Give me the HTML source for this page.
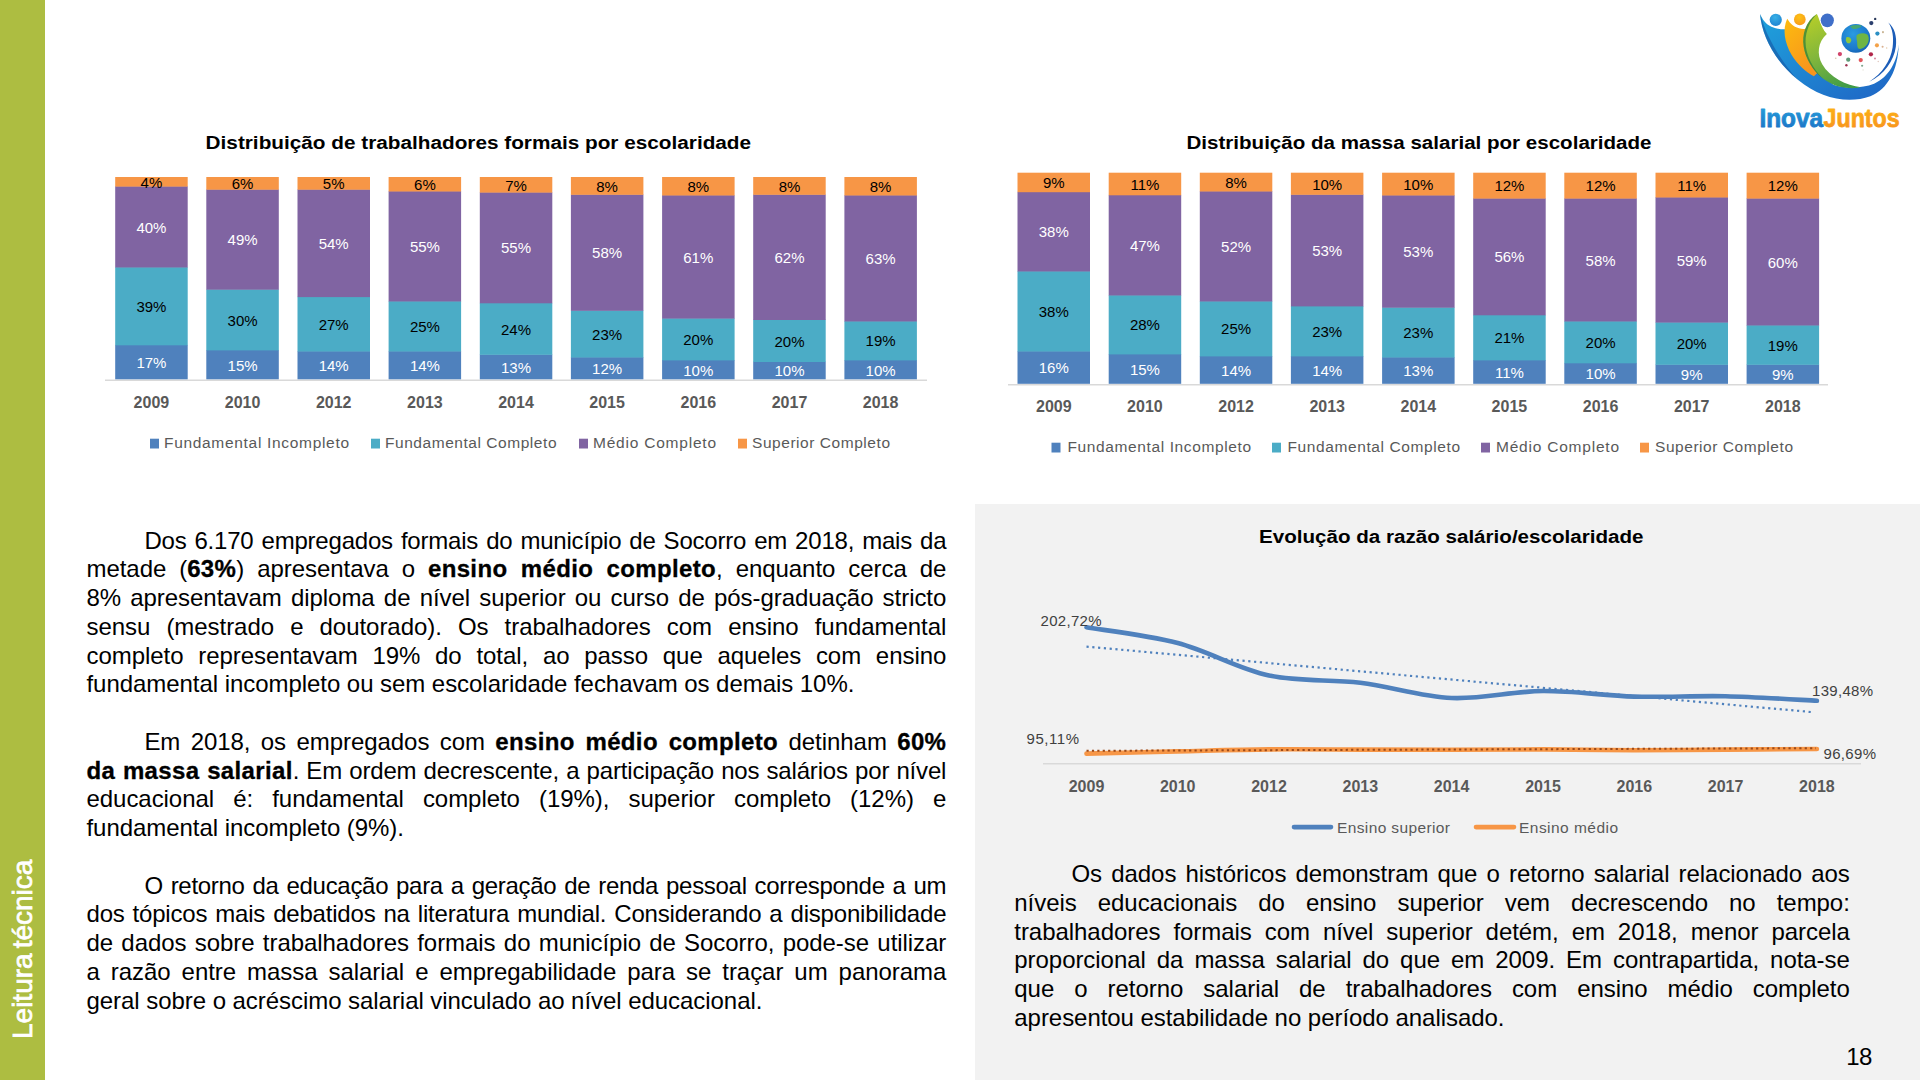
<!DOCTYPE html>
<html lang="pt-BR"><head><meta charset="utf-8"><title>Leitura técnica</title>
<style>
html,body{margin:0;padding:0;}
body{width:1920px;height:1080px;overflow:hidden;background:#fff;position:relative;font-family:'Liberation Sans', sans-serif;}
.side{position:absolute;left:0;top:0;width:45px;height:1080px;background:#adbd41;}
.panel{position:absolute;left:975px;top:504px;width:945px;height:576px;background:#f2f2f2;}
svg.main{position:absolute;left:0;top:0;}
.ln{position:absolute;font-size:24px;line-height:28.75px;height:28.75px;color:#000;white-space:nowrap;letter-spacing:-0.05px;}
.ln.j{text-align:justify;text-align-last:justify;}
.ln b{letter-spacing:0.35px;-webkit-text-stroke:0.3px #000;}
.pg{position:absolute;left:1846.3px;top:1043.2px;font-size:24px;line-height:28px;color:#000;letter-spacing:-0.6px;}
</style></head><body>
<div class="side"></div>
<div class="panel"></div>
<svg class="main" width="1920" height="1080" viewBox="0 0 1920 1080">
<defs>
<linearGradient id="gBlue" x1="0" y1="0" x2="1" y2="1"><stop offset="0" stop-color="#1fa3dc"/><stop offset="0.45" stop-color="#1f86d2"/><stop offset="1" stop-color="#1f63c4"/></linearGradient>
<linearGradient id="gOr" x1="0" y1="0" x2="0.6" y2="1"><stop offset="0" stop-color="#fdbb0f"/><stop offset="1" stop-color="#f7941d"/></linearGradient>
<linearGradient id="gGr" x1="0.3" y1="0" x2="0.7" y2="1"><stop offset="0" stop-color="#b2cc2a"/><stop offset="0.5" stop-color="#7fb53c"/><stop offset="1" stop-color="#3f9b48"/></linearGradient>
<radialGradient id="gH1" cx="0.45" cy="0.3" r="0.8"><stop offset="0" stop-color="#38b0e6"/><stop offset="1" stop-color="#1c7fd0"/></radialGradient>
<radialGradient id="gH2" cx="0.45" cy="0.3" r="0.8"><stop offset="0" stop-color="#fdc214"/><stop offset="1" stop-color="#f8961d"/></radialGradient>
<radialGradient id="gGl" cx="0.4" cy="0.35" r="0.75"><stop offset="0" stop-color="#2a9be0"/><stop offset="0.7" stop-color="#1b78cc"/><stop offset="1" stop-color="#145aa8"/></radialGradient>
<linearGradient id="gT1" x1="0" y1="0" x2="0" y2="1"><stop offset="0" stop-color="#27a3dd"/><stop offset="1" stop-color="#1b6fc4"/></linearGradient>
<linearGradient id="gT2" x1="0" y1="0" x2="0" y2="1"><stop offset="0" stop-color="#fdb713"/><stop offset="1" stop-color="#f7901e"/></linearGradient>
</defs>
<g transform="translate(1750,5) scale(0.0925926)">
<!-- blue swoosh -->
<path d="M108,98 C130,330 260,600 520,810 C760,1010 1060,1072 1300,985 C1490,910 1600,700 1606,425 C1590,610 1500,780 1340,850 C1200,905 1020,900 900,860 L770,740 L690,560 L600,262 L360,262 C300,262 200,240 150,170 C135,150 120,125 108,98 Z" fill="url(#gBlue)"/>
<path d="M108,98 C130,330 260,600 520,810 C400,690 200,400 130,160 Z" fill="#14509e" opacity="0.55"/>
<!-- orange swoosh -->
<path d="M402,148 C350,260 370,400 450,540 C520,650 600,720 690,770 L740,720 L660,262 L600,262 C540,262 470,240 430,190 Z" fill="url(#gOr)"/>
<!-- green swoosh -->
<path d="M722,98 C600,180 560,320 580,450 C610,640 760,820 960,880 C1060,905 1140,900 1200,888 C1040,870 860,780 780,640 C720,530 730,400 830,312 C790,270 760,200 745,150 C738,130 730,110 722,98 Z" fill="url(#gGr)"/>
<path d="M722,98 C600,180 560,320 580,450 C600,580 680,710 790,800 C680,690 600,540 600,400 C600,280 650,170 722,98 Z" fill="#2d7a3a" opacity="0.7"/>
<!-- heads -->
<circle cx="278" cy="160" r="66" fill="url(#gH1)"/>
<circle cx="538" cy="156" r="63" fill="url(#gH2)"/>
<ellipse cx="835" cy="166" rx="71" ry="73" fill="#3f6fc9"/>
<!-- globe -->
<circle cx="1143" cy="360" r="156" fill="url(#gGl)"/>
<path d="M1150,330 C1180,300 1230,300 1270,320 C1295,360 1280,420 1240,450 C1215,470 1190,480 1170,470 C1150,440 1165,400 1150,370 Z" fill="#6fb544"/>
<path d="M1040,350 C1060,340 1090,350 1095,380 C1090,410 1070,420 1050,410 C1035,395 1030,370 1040,350 Z" fill="#8cc63f"/>
<path d="M1080,230 C1120,215 1170,212 1210,225 C1190,250 1150,262 1110,258 Z" fill="#4fae5a" opacity="0.8"/>
<!-- right thin arc -->
<path d="M1493,188 C1560,240 1590,340 1575,450 C1555,600 1450,750 1288,828 C1430,740 1520,600 1540,460 C1555,350 1540,250 1493,188 Z" fill="#1c5db8"/>
<!-- dots -->
<circle cx="1352" cy="150" r="13" fill="#2b3a5c"/>
<circle cx="1310" cy="195" r="23" fill="#2b3f6e"/>
<circle cx="1376" cy="308" r="23" fill="#2c8fc4"/>
<circle cx="1436" cy="293" r="11" fill="#c9b493"/>
<circle cx="1371" cy="436" r="22" fill="#f3a24a"/>
<circle cx="1432" cy="452" r="11" fill="#d9b090"/>
<circle cx="1476" cy="465" r="8" fill="#e3c9a8"/>
<circle cx="1306" cy="533" r="23" fill="#b1264a"/>
<circle cx="1350" cy="578" r="11" fill="#d98aa0"/>
<circle cx="1385" cy="609" r="8" fill="#e0c8c0"/>
<circle cx="971" cy="530" r="23" fill="#d2446a"/>
<circle cx="926" cy="575" r="9" fill="#d9c9a8"/>
<circle cx="1061" cy="590" r="23" fill="#5d9b77"/>
<circle cx="1041" cy="650" r="13" fill="#9c3350"/>
<circle cx="1196" cy="595" r="23" fill="#e2555a"/>
<circle cx="1211" cy="656" r="12" fill="#7fa58d"/>
<circle cx="1221" cy="701" r="6" fill="#d9d9c9"/>
</g>
<g font-family="'Liberation Sans', sans-serif" font-weight="bold" font-size="25.5" stroke-width="0.8" stroke-linejoin="round">
<text x="1759.4" y="126.8" fill="url(#gT1)" stroke="url(#gT1)" textLength="63.6" lengthAdjust="spacingAndGlyphs">Inova</text>
<text x="1823.6" y="126.8" fill="url(#gT2)" stroke="url(#gT2)" textLength="76" lengthAdjust="spacingAndGlyphs">Juntos</text>
</g>

<g font-family="'Liberation Sans', sans-serif">
<text x="205.6" y="148.8" font-size="18.7" font-weight="bold" fill="#000" textLength="545.5" lengthAdjust="spacingAndGlyphs">Distribuição de trabalhadores formais por escolaridade</text>
<text x="1186.5" y="148.8" font-size="18.7" font-weight="bold" fill="#000" textLength="465" lengthAdjust="spacingAndGlyphs">Distribuição da massa salarial por escolaridade</text>
<line x1="105" y1="380.3" x2="927" y2="380.3" stroke="#d9d9d9" stroke-width="1.5"/>
<rect x="115.2" y="344.9" width="72.5" height="34.4" fill="#4f81bd"/>
<rect x="115.2" y="267.1" width="72.5" height="78.2" fill="#4bacc6"/>
<rect x="115.2" y="186.2" width="72.5" height="81.3" fill="#8064a2"/>
<rect x="115.2" y="177.0" width="72.5" height="9.6" fill="#f79646"/>
<text x="151.4" y="368.0" text-anchor="middle" fill="#fff" font-size="15">17%</text>
<text x="151.4" y="311.9" text-anchor="middle" fill="#000" font-size="15">39%</text>
<text x="151.4" y="232.6" text-anchor="middle" fill="#fff" font-size="15">40%</text>
<text x="151.4" y="187.5" text-anchor="middle" fill="#000" font-size="15">4%</text>
<text x="151.4" y="407.8" text-anchor="middle" fill="#595959" font-size="16" font-weight="bold">2009</text>
<rect x="206.3" y="350.0" width="72.5" height="29.3" fill="#4f81bd"/>
<rect x="206.3" y="289.3" width="72.5" height="61.1" fill="#4bacc6"/>
<rect x="206.3" y="189.3" width="72.5" height="100.4" fill="#8064a2"/>
<rect x="206.3" y="177.0" width="72.5" height="12.7" fill="#f79646"/>
<text x="242.6" y="370.5" text-anchor="middle" fill="#fff" font-size="15">15%</text>
<text x="242.6" y="325.5" text-anchor="middle" fill="#000" font-size="15">30%</text>
<text x="242.6" y="245.2" text-anchor="middle" fill="#fff" font-size="15">49%</text>
<text x="242.6" y="189.1" text-anchor="middle" fill="#000" font-size="15">6%</text>
<text x="242.6" y="407.8" text-anchor="middle" fill="#595959" font-size="16" font-weight="bold">2010</text>
<rect x="297.5" y="351.1" width="72.5" height="28.2" fill="#4f81bd"/>
<rect x="297.5" y="296.7" width="72.5" height="54.8" fill="#4bacc6"/>
<rect x="297.5" y="189.3" width="72.5" height="107.8" fill="#8064a2"/>
<rect x="297.5" y="177.0" width="72.5" height="12.7" fill="#f79646"/>
<text x="333.7" y="371.1" text-anchor="middle" fill="#fff" font-size="15">14%</text>
<text x="333.7" y="329.8" text-anchor="middle" fill="#000" font-size="15">27%</text>
<text x="333.7" y="248.9" text-anchor="middle" fill="#fff" font-size="15">54%</text>
<text x="333.7" y="189.1" text-anchor="middle" fill="#000" font-size="15">5%</text>
<text x="333.7" y="407.8" text-anchor="middle" fill="#595959" font-size="16" font-weight="bold">2012</text>
<rect x="388.6" y="351.1" width="72.5" height="28.2" fill="#4f81bd"/>
<rect x="388.6" y="301.1" width="72.5" height="50.4" fill="#4bacc6"/>
<rect x="388.6" y="191.1" width="72.5" height="110.4" fill="#8064a2"/>
<rect x="388.6" y="177.0" width="72.5" height="14.5" fill="#f79646"/>
<text x="424.9" y="371.1" text-anchor="middle" fill="#fff" font-size="15">14%</text>
<text x="424.9" y="332.0" text-anchor="middle" fill="#000" font-size="15">25%</text>
<text x="424.9" y="252.0" text-anchor="middle" fill="#fff" font-size="15">55%</text>
<text x="424.9" y="190.0" text-anchor="middle" fill="#000" font-size="15">6%</text>
<text x="424.9" y="407.8" text-anchor="middle" fill="#595959" font-size="16" font-weight="bold">2013</text>
<rect x="479.8" y="354.4" width="72.5" height="24.9" fill="#4f81bd"/>
<rect x="479.8" y="302.9" width="72.5" height="51.9" fill="#4bacc6"/>
<rect x="479.8" y="192.2" width="72.5" height="111.1" fill="#8064a2"/>
<rect x="479.8" y="177.0" width="72.5" height="15.6" fill="#f79646"/>
<text x="516.0" y="372.8" text-anchor="middle" fill="#fff" font-size="15">13%</text>
<text x="516.0" y="334.5" text-anchor="middle" fill="#000" font-size="15">24%</text>
<text x="516.0" y="253.4" text-anchor="middle" fill="#fff" font-size="15">55%</text>
<text x="516.0" y="190.5" text-anchor="middle" fill="#000" font-size="15">7%</text>
<text x="516.0" y="407.8" text-anchor="middle" fill="#595959" font-size="16" font-weight="bold">2014</text>
<rect x="570.9" y="357.1" width="72.5" height="22.2" fill="#4f81bd"/>
<rect x="570.9" y="310.4" width="72.5" height="47.1" fill="#4bacc6"/>
<rect x="570.9" y="194.4" width="72.5" height="116.4" fill="#8064a2"/>
<rect x="570.9" y="177.0" width="72.5" height="17.8" fill="#f79646"/>
<text x="607.1" y="374.1" text-anchor="middle" fill="#fff" font-size="15">12%</text>
<text x="607.1" y="339.6" text-anchor="middle" fill="#000" font-size="15">23%</text>
<text x="607.1" y="258.3" text-anchor="middle" fill="#fff" font-size="15">58%</text>
<text x="607.1" y="191.6" text-anchor="middle" fill="#000" font-size="15">8%</text>
<text x="607.1" y="407.8" text-anchor="middle" fill="#595959" font-size="16" font-weight="bold">2015</text>
<rect x="662.1" y="360.0" width="72.5" height="19.3" fill="#4f81bd"/>
<rect x="662.1" y="318.2" width="72.5" height="42.2" fill="#4bacc6"/>
<rect x="662.1" y="195.1" width="72.5" height="123.5" fill="#8064a2"/>
<rect x="662.1" y="177.0" width="72.5" height="18.5" fill="#f79646"/>
<text x="698.3" y="375.5" text-anchor="middle" fill="#fff" font-size="15">10%</text>
<text x="698.3" y="345.0" text-anchor="middle" fill="#000" font-size="15">20%</text>
<text x="698.3" y="262.5" text-anchor="middle" fill="#fff" font-size="15">61%</text>
<text x="698.3" y="192.0" text-anchor="middle" fill="#000" font-size="15">8%</text>
<text x="698.3" y="407.8" text-anchor="middle" fill="#595959" font-size="16" font-weight="bold">2016</text>
<rect x="753.2" y="361.6" width="72.5" height="17.7" fill="#4f81bd"/>
<rect x="753.2" y="319.6" width="72.5" height="42.4" fill="#4bacc6"/>
<rect x="753.2" y="194.4" width="72.5" height="125.6" fill="#8064a2"/>
<rect x="753.2" y="177.0" width="72.5" height="17.8" fill="#f79646"/>
<text x="789.5" y="376.4" text-anchor="middle" fill="#fff" font-size="15">10%</text>
<text x="789.5" y="346.5" text-anchor="middle" fill="#000" font-size="15">20%</text>
<text x="789.5" y="262.9" text-anchor="middle" fill="#fff" font-size="15">62%</text>
<text x="789.5" y="191.6" text-anchor="middle" fill="#000" font-size="15">8%</text>
<text x="789.5" y="407.8" text-anchor="middle" fill="#595959" font-size="16" font-weight="bold">2017</text>
<rect x="844.4" y="360.0" width="72.5" height="19.3" fill="#4f81bd"/>
<rect x="844.4" y="321.1" width="72.5" height="39.3" fill="#4bacc6"/>
<rect x="844.4" y="195.1" width="72.5" height="126.4" fill="#8064a2"/>
<rect x="844.4" y="177.0" width="72.5" height="18.5" fill="#f79646"/>
<text x="880.6" y="375.5" text-anchor="middle" fill="#fff" font-size="15">10%</text>
<text x="880.6" y="346.4" text-anchor="middle" fill="#000" font-size="15">19%</text>
<text x="880.6" y="264.0" text-anchor="middle" fill="#fff" font-size="15">63%</text>
<text x="880.6" y="192.0" text-anchor="middle" fill="#000" font-size="15">8%</text>
<text x="880.6" y="407.8" text-anchor="middle" fill="#595959" font-size="16" font-weight="bold">2018</text>
<rect x="150" y="438.7" width="9" height="9.8" fill="#4f81bd"/>
<text x="164" y="448.3" fill="#595959" font-size="15.5" textLength="185" lengthAdjust="spacing">Fundamental Incompleto</text>
<rect x="371" y="438.7" width="9" height="9.8" fill="#4bacc6"/>
<text x="385" y="448.3" fill="#595959" font-size="15.5" textLength="171.5" lengthAdjust="spacing">Fundamental Completo</text>
<rect x="579" y="438.7" width="9" height="9.8" fill="#8064a2"/>
<text x="593" y="448.3" fill="#595959" font-size="15.5" textLength="123" lengthAdjust="spacing">Médio Completo</text>
<rect x="738" y="438.7" width="9" height="9.8" fill="#f79646"/>
<text x="752" y="448.3" fill="#595959" font-size="15.5" textLength="138" lengthAdjust="spacing">Superior Completo</text>
<line x1="1008" y1="384.8" x2="1828" y2="384.8" stroke="#d9d9d9" stroke-width="1.5"/>
<rect x="1017.5" y="351.1" width="72.5" height="32.7" fill="#4f81bd"/>
<rect x="1017.5" y="271.1" width="72.5" height="80.4" fill="#4bacc6"/>
<rect x="1017.5" y="191.8" width="72.5" height="79.7" fill="#8064a2"/>
<rect x="1017.5" y="172.7" width="72.5" height="19.5" fill="#f79646"/>
<text x="1053.8" y="373.4" text-anchor="middle" fill="#fff" font-size="15">16%</text>
<text x="1053.8" y="317.0" text-anchor="middle" fill="#000" font-size="15">38%</text>
<text x="1053.8" y="237.4" text-anchor="middle" fill="#fff" font-size="15">38%</text>
<text x="1053.8" y="188.2" text-anchor="middle" fill="#000" font-size="15">9%</text>
<text x="1053.8" y="411.8" text-anchor="middle" fill="#595959" font-size="16" font-weight="bold">2009</text>
<rect x="1108.7" y="354.0" width="72.5" height="29.8" fill="#4f81bd"/>
<rect x="1108.7" y="295.1" width="72.5" height="59.3" fill="#4bacc6"/>
<rect x="1108.7" y="194.9" width="72.5" height="100.6" fill="#8064a2"/>
<rect x="1108.7" y="172.7" width="72.5" height="22.6" fill="#f79646"/>
<text x="1144.9" y="374.8" text-anchor="middle" fill="#fff" font-size="15">15%</text>
<text x="1144.9" y="330.4" text-anchor="middle" fill="#000" font-size="15">28%</text>
<text x="1144.9" y="250.9" text-anchor="middle" fill="#fff" font-size="15">47%</text>
<text x="1144.9" y="189.7" text-anchor="middle" fill="#000" font-size="15">11%</text>
<text x="1144.9" y="411.8" text-anchor="middle" fill="#595959" font-size="16" font-weight="bold">2010</text>
<rect x="1199.8" y="356.0" width="72.5" height="27.8" fill="#4f81bd"/>
<rect x="1199.8" y="301.1" width="72.5" height="55.3" fill="#4bacc6"/>
<rect x="1199.8" y="191.1" width="72.5" height="110.4" fill="#8064a2"/>
<rect x="1199.8" y="172.7" width="72.5" height="18.8" fill="#f79646"/>
<text x="1236.1" y="375.8" text-anchor="middle" fill="#fff" font-size="15">14%</text>
<text x="1236.1" y="334.4" text-anchor="middle" fill="#000" font-size="15">25%</text>
<text x="1236.1" y="252.0" text-anchor="middle" fill="#fff" font-size="15">52%</text>
<text x="1236.1" y="187.8" text-anchor="middle" fill="#000" font-size="15">8%</text>
<text x="1236.1" y="411.8" text-anchor="middle" fill="#595959" font-size="16" font-weight="bold">2012</text>
<rect x="1290.9" y="356.0" width="72.5" height="27.8" fill="#4f81bd"/>
<rect x="1290.9" y="306.0" width="72.5" height="50.4" fill="#4bacc6"/>
<rect x="1290.9" y="194.4" width="72.5" height="112.0" fill="#8064a2"/>
<rect x="1290.9" y="172.7" width="72.5" height="22.1" fill="#f79646"/>
<text x="1327.2" y="375.8" text-anchor="middle" fill="#fff" font-size="15">14%</text>
<text x="1327.2" y="336.9" text-anchor="middle" fill="#000" font-size="15">23%</text>
<text x="1327.2" y="256.1" text-anchor="middle" fill="#fff" font-size="15">53%</text>
<text x="1327.2" y="189.5" text-anchor="middle" fill="#000" font-size="15">10%</text>
<text x="1327.2" y="411.8" text-anchor="middle" fill="#595959" font-size="16" font-weight="bold">2013</text>
<rect x="1382.1" y="357.1" width="72.5" height="26.7" fill="#4f81bd"/>
<rect x="1382.1" y="307.3" width="72.5" height="50.2" fill="#4bacc6"/>
<rect x="1382.1" y="195.1" width="72.5" height="112.6" fill="#8064a2"/>
<rect x="1382.1" y="172.7" width="72.5" height="22.8" fill="#f79646"/>
<text x="1418.3" y="376.4" text-anchor="middle" fill="#fff" font-size="15">13%</text>
<text x="1418.3" y="338.1" text-anchor="middle" fill="#000" font-size="15">23%</text>
<text x="1418.3" y="257.1" text-anchor="middle" fill="#fff" font-size="15">53%</text>
<text x="1418.3" y="189.8" text-anchor="middle" fill="#000" font-size="15">10%</text>
<text x="1418.3" y="411.8" text-anchor="middle" fill="#595959" font-size="16" font-weight="bold">2014</text>
<rect x="1473.2" y="360.0" width="72.5" height="23.8" fill="#4f81bd"/>
<rect x="1473.2" y="314.9" width="72.5" height="45.5" fill="#4bacc6"/>
<rect x="1473.2" y="198.2" width="72.5" height="117.1" fill="#8064a2"/>
<rect x="1473.2" y="172.7" width="72.5" height="25.9" fill="#f79646"/>
<text x="1509.4" y="377.8" text-anchor="middle" fill="#fff" font-size="15">11%</text>
<text x="1509.4" y="343.3" text-anchor="middle" fill="#000" font-size="15">21%</text>
<text x="1509.4" y="262.4" text-anchor="middle" fill="#fff" font-size="15">56%</text>
<text x="1509.4" y="191.3" text-anchor="middle" fill="#000" font-size="15">12%</text>
<text x="1509.4" y="411.8" text-anchor="middle" fill="#595959" font-size="16" font-weight="bold">2015</text>
<rect x="1564.3" y="362.9" width="72.5" height="20.9" fill="#4f81bd"/>
<rect x="1564.3" y="321.1" width="72.5" height="42.2" fill="#4bacc6"/>
<rect x="1564.3" y="198.2" width="72.5" height="123.3" fill="#8064a2"/>
<rect x="1564.3" y="172.7" width="72.5" height="25.9" fill="#f79646"/>
<text x="1600.6" y="379.2" text-anchor="middle" fill="#fff" font-size="15">10%</text>
<text x="1600.6" y="347.9" text-anchor="middle" fill="#000" font-size="15">20%</text>
<text x="1600.6" y="265.5" text-anchor="middle" fill="#fff" font-size="15">58%</text>
<text x="1600.6" y="191.3" text-anchor="middle" fill="#000" font-size="15">12%</text>
<text x="1600.6" y="411.8" text-anchor="middle" fill="#595959" font-size="16" font-weight="bold">2016</text>
<rect x="1655.5" y="364.4" width="72.5" height="19.4" fill="#4f81bd"/>
<rect x="1655.5" y="322.2" width="72.5" height="42.6" fill="#4bacc6"/>
<rect x="1655.5" y="197.1" width="72.5" height="125.5" fill="#8064a2"/>
<rect x="1655.5" y="172.7" width="72.5" height="24.8" fill="#f79646"/>
<text x="1691.7" y="380.0" text-anchor="middle" fill="#fff" font-size="15">9%</text>
<text x="1691.7" y="349.2" text-anchor="middle" fill="#000" font-size="15">20%</text>
<text x="1691.7" y="265.5" text-anchor="middle" fill="#fff" font-size="15">59%</text>
<text x="1691.7" y="190.8" text-anchor="middle" fill="#000" font-size="15">11%</text>
<text x="1691.7" y="411.8" text-anchor="middle" fill="#595959" font-size="16" font-weight="bold">2017</text>
<rect x="1746.6" y="364.4" width="72.5" height="19.4" fill="#4f81bd"/>
<rect x="1746.6" y="325.1" width="72.5" height="39.7" fill="#4bacc6"/>
<rect x="1746.6" y="198.2" width="72.5" height="127.3" fill="#8064a2"/>
<rect x="1746.6" y="172.7" width="72.5" height="25.9" fill="#f79646"/>
<text x="1782.8" y="380.0" text-anchor="middle" fill="#fff" font-size="15">9%</text>
<text x="1782.8" y="350.6" text-anchor="middle" fill="#000" font-size="15">19%</text>
<text x="1782.8" y="267.5" text-anchor="middle" fill="#fff" font-size="15">60%</text>
<text x="1782.8" y="191.3" text-anchor="middle" fill="#000" font-size="15">12%</text>
<text x="1782.8" y="411.8" text-anchor="middle" fill="#595959" font-size="16" font-weight="bold">2018</text>
<rect x="1051.5" y="442.7" width="9" height="9.8" fill="#4f81bd"/>
<text x="1067.5" y="452.3" fill="#595959" font-size="15.5" textLength="183.5" lengthAdjust="spacing">Fundamental Incompleto</text>
<rect x="1272" y="442.7" width="9" height="9.8" fill="#4bacc6"/>
<text x="1287.5" y="452.3" fill="#595959" font-size="15.5" textLength="172.5" lengthAdjust="spacing">Fundamental Completo</text>
<rect x="1481" y="442.7" width="9" height="9.8" fill="#8064a2"/>
<text x="1496" y="452.3" fill="#595959" font-size="15.5" textLength="123" lengthAdjust="spacing">Médio Completo</text>
<rect x="1640" y="442.7" width="9" height="9.8" fill="#f79646"/>
<text x="1655" y="452.3" fill="#595959" font-size="15.5" textLength="138" lengthAdjust="spacing">Superior Completo</text>
<text x="1259" y="543" font-size="18.7" font-weight="bold" fill="#000" textLength="384.5" lengthAdjust="spacingAndGlyphs">Evolução da razão salário/escolaridade</text>
<line x1="1043" y1="763.8" x2="1861" y2="763.8" stroke="#d9d9d9" stroke-width="1.5"/>
<text x="1086.5" y="792.4" text-anchor="middle" fill="#595959" font-size="16" font-weight="bold">2009</text>
<text x="1177.7" y="792.4" text-anchor="middle" fill="#595959" font-size="16" font-weight="bold">2010</text>
<text x="1269" y="792.4" text-anchor="middle" fill="#595959" font-size="16" font-weight="bold">2012</text>
<text x="1360.3" y="792.4" text-anchor="middle" fill="#595959" font-size="16" font-weight="bold">2013</text>
<text x="1451.6" y="792.4" text-anchor="middle" fill="#595959" font-size="16" font-weight="bold">2014</text>
<text x="1543" y="792.4" text-anchor="middle" fill="#595959" font-size="16" font-weight="bold">2015</text>
<text x="1634.3" y="792.4" text-anchor="middle" fill="#595959" font-size="16" font-weight="bold">2016</text>
<text x="1725.6" y="792.4" text-anchor="middle" fill="#595959" font-size="16" font-weight="bold">2017</text>
<text x="1816.9" y="792.4" text-anchor="middle" fill="#595959" font-size="16" font-weight="bold">2018</text>
<line x1="1086.5" y1="646.6" x2="1811" y2="712" stroke="#4f81bd" stroke-width="2.2" stroke-dasharray="2.2,3.6"/>
<path d="M1086.5,753.6 C1101.7,753.2 1147.3,752.1 1177.7,751.4 C1208.1,750.7 1238.6,749.7 1269.0,749.4 C1299.4,749.1 1329.9,749.5 1360.3,749.6 C1390.7,749.7 1421.1,749.7 1451.6,749.7 C1482.0,749.7 1512.5,749.3 1543.0,749.4 C1573.5,749.5 1603.9,750.2 1634.3,750.2 C1664.7,750.2 1695.2,749.8 1725.6,749.6 C1756.0,749.4 1801.7,749.1 1816.9,749.0" fill="none" stroke="#f79646" stroke-width="4.6" stroke-linecap="round"/>
<line x1="1086.5" y1="750.8" x2="1816" y2="748.2" stroke="#9c4a1a" stroke-width="2.0" stroke-dasharray="2.2,3.2"/>
<path d="M1086.5,627.3 C1101.7,629.9 1147.3,635.0 1177.7,643.0 C1208.1,651.0 1238.6,668.9 1269.0,675.5 C1299.4,682.1 1329.9,679.0 1360.3,682.7 C1390.7,686.5 1421.1,696.6 1451.6,698.0 C1482.0,699.4 1512.5,691.2 1543.0,691.0 C1573.5,690.8 1603.9,695.7 1634.3,696.6 C1664.7,697.5 1695.2,695.5 1725.6,696.2 C1756.0,696.9 1801.7,700.0 1816.9,700.8" fill="none" stroke="#4f81bd" stroke-width="4.6" stroke-linecap="round"/>
<text x="1040.5" y="626.0" fill="#404040" font-size="15" textLength="61" lengthAdjust="spacing">202,72%</text>
<text x="1026.5" y="744.0" fill="#404040" font-size="15" textLength="52.5" lengthAdjust="spacing">95,11%</text>
<text x="1812" y="696.0" fill="#404040" font-size="15" textLength="61" lengthAdjust="spacing">139,48%</text>
<text x="1823.5" y="758.5" fill="#404040" font-size="15" textLength="52.5" lengthAdjust="spacing">96,69%</text>
<line x1="1294" y1="827.1" x2="1331" y2="827.1" stroke="#4f81bd" stroke-width="4.6" stroke-linecap="round"/>
<text x="1337" y="832.6" fill="#595959" font-size="15.5" textLength="113" lengthAdjust="spacing">Ensino superior</text>
<line x1="1476" y1="827.1" x2="1514" y2="827.1" stroke="#f79646" stroke-width="4.6" stroke-linecap="round"/>
<text x="1519" y="832.6" fill="#595959" font-size="15.5" textLength="99" lengthAdjust="spacing">Ensino médio</text>
<text transform="translate(32,1039) rotate(-90)" fill="#fff" stroke="#fff" stroke-width="0.7" font-size="28" word-spacing="-2.7">Leitura técnica</text>
</g>
</svg>
<div class="ln j" style="left:144.4px;top:526.71px;width:801.9px;letter-spacing:-0.2px;">Dos 6.170 empregados formais do município de Socorro em 2018, mais da</div>
<div class="ln j" style="left:86.5px;top:555.46px;width:859.8px;">metade (<b>63%</b>) apresentava o <b>ensino médio completo</b>, enquanto cerca de</div>
<div class="ln j" style="left:86.5px;top:584.21px;width:859.8px;">8% apresentavam diploma de nível superior ou curso de pós-graduação stricto</div>
<div class="ln j" style="left:86.5px;top:612.96px;width:859.8px;">sensu (mestrado e doutorado). Os trabalhadores com ensino fundamental</div>
<div class="ln j" style="left:86.5px;top:641.71px;width:859.8px;">completo representavam 19% do total, ao passo que aqueles com ensino</div>
<div class="ln" style="left:86.5px;top:670.46px;">fundamental incompleto ou sem escolaridade fechavam os demais 10%.</div>
<div class="ln j" style="left:144.4px;top:727.96px;width:801.9px;">Em 2018, os empregados com <b>ensino médio completo</b> detinham <b>60%</b></div>
<div class="ln j" style="left:86.5px;top:756.71px;width:859.8px;letter-spacing:-0.17px;"><b>da massa salarial</b>. Em ordem decrescente, a participação nos salários por nível</div>
<div class="ln j" style="left:86.5px;top:785.46px;width:859.8px;">educacional é: fundamental completo (19%), superior completo (12%) e</div>
<div class="ln" style="left:86.5px;top:814.21px;">fundamental incompleto (9%).</div>
<div class="ln j" style="left:144.4px;top:871.71px;width:801.9px;letter-spacing:-0.3px;">O retorno da educação para a geração de renda pessoal corresponde a um</div>
<div class="ln j" style="left:86.5px;top:900.46px;width:859.8px;letter-spacing:-0.2px;">dos tópicos mais debatidos na literatura mundial. Considerando a disponibilidade</div>
<div class="ln j" style="left:86.5px;top:929.21px;width:859.8px;">de dados sobre trabalhadores formais do município de Socorro, pode-se utilizar</div>
<div class="ln j" style="left:86.5px;top:957.96px;width:859.8px;">a razão entre massa salarial e empregabilidade para se traçar um panorama</div>
<div class="ln" style="left:86.5px;top:986.71px;">geral sobre o acréscimo salarial vinculado ao nível educacional.</div>
<div class="ln j" style="left:1071.5px;top:860.11px;width:778.3px;">Os dados históricos demonstram que o retorno salarial relacionado aos</div>
<div class="ln j" style="left:1014.3px;top:888.86px;width:835.5px;">níveis educacionais do ensino superior vem decrescendo no tempo:</div>
<div class="ln j" style="left:1014.3px;top:917.61px;width:835.5px;">trabalhadores formais com nível superior detém, em 2018, menor parcela</div>
<div class="ln j" style="left:1014.3px;top:946.36px;width:835.5px;">proporcional da massa salarial do que em 2009. Em contrapartida, nota-se</div>
<div class="ln j" style="left:1014.3px;top:975.11px;width:835.5px;">que o retorno salarial de trabalhadores com ensino médio completo</div>
<div class="ln" style="left:1014.3px;top:1003.86px;">apresentou estabilidade no período analisado.</div>
<div class="pg">18</div>
</body></html>
